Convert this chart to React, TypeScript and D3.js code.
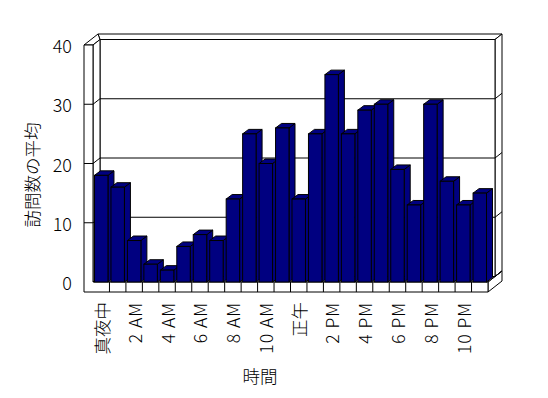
import React from "react";
import * as d3 from "d3";

const categories = ["真夜中","1","2 AM","3","4 AM","5","6 AM","7","8 AM","9","10 AM","11","正午","13","2 PM","15","4 PM","17","6 PM","19","8 PM","21","10 PM","23"];
const tickLabels = ["真夜中","2 AM","4 AM","6 AM","8 AM","10 AM","正午","2 PM","4 PM","6 PM","8 PM","10 PM"];
const values = [18,16,7,3,2,6,8,7,14,25,20,26,14,25,35,25,29,30,19,13,30,17,13,15];
const yTicks = [0,10,20,30,40];

const W = 548, H = 398;
const FONT = "'Noto Sans CJK JP', 'Noto Sans', sans-serif";

export default function App() {
  const x0 = 93, x1 = 488;
  const wallOuter = 84;
  const floorBottom = 292;
  const D = { x: 7, y: -5.5 };
  const B = { x: 6, y: -4.5 };
  const y = d3.scaleLinear().domain([0, 40]).range([282, 45]);
  const xb = d3.scaleBand().domain(categories).range([x0, x1]).paddingInner(0).paddingOuter(0);
  const band = xb.bandwidth();
  const top = y(40), base = y(0);
  const pts = (a: number[][]) => a.map(p => p.join(",")).join(" ");
  const stroke = { stroke: "#000", strokeWidth: 1, strokeLinejoin: "miter" as const };

  return (
    <svg width={W} height={H} style={{ position: "absolute", left: 0, top: 0, background: "#fff" }} fontFamily={FONT} fontWeight={300}>
      <rect x={0} y={0} width={W} height={H} fill="#fff" />
      <polygon points={pts([[x0 + D.x, top + D.y], [x1 + D.x, top + D.y], [x1 + 2 * D.x, top + 2 * D.y], [wallOuter + 2 * D.x, top + 2 * D.y]])} fill="#fff" {...stroke} />
      <polygon points={pts([[x1 + D.x, top + D.y], [x1 + 2 * D.x, top + 2 * D.y], [x1 + 2 * D.x, base + 2 * D.y], [x1 + D.x, base + D.y]])} fill="#fff" {...stroke} />
      <rect x={x0 + D.x} y={top + D.y} width={x1 - x0} height={base - top} fill="#fff" {...stroke} />
      <polygon points={pts([[wallOuter, top], [x0, top], [x0 + D.x, top + D.y], [wallOuter + 2 * D.x, top + 2 * D.y]])} fill="#fff" {...stroke} />
      <polygon points={pts([[x0, top], [x0 + D.x, top + D.y], [x0 + D.x, base + D.y], [x0, base]])} fill="#fff" {...stroke} />
      <polygon points={pts([[x1, base], [x1 + 2 * D.x, base + 2 * D.y], [x1 + 2 * D.x, floorBottom + 2 * D.y], [x1, floorBottom]])} fill="#fff" {...stroke} />
      <polygon points={pts([[x0, base], [x1, base], [x1 + 2 * D.x, base + 2 * D.y], [x1 + D.x, base + D.y], [x0 + D.x, base + D.y]])} fill="#fff" {...stroke} />
      {yTicks.filter(v => v > 0 && v < 40).map(v => (
        <polyline key={v} points={pts([[wallOuter, y(v)], [x0, y(v)], [x0 + D.x, y(v) + D.y], [x1 + D.x, y(v) + D.y], [x1 + 2 * D.x, y(v) + 2 * D.y]])} fill="none" {...stroke} />
      ))}
      <polygon points={pts([[wallOuter, top], [x0, top], [x0, base], [x1, base], [x1, floorBottom], [wallOuter, floorBottom]])} fill="#fff" {...stroke} />
      {yTicks.filter(v => v > 0 && v < 40).map(v => (
        <line key={"t" + v} x1={wallOuter} x2={x0} y1={y(v)} y2={y(v)} {...stroke} />
      ))}
      {categories.slice(1).map(c => (
        <line key={"c" + c} x1={xb(c)!} x2={xb(c)!} y1={base} y2={floorBottom} {...stroke} />
      ))}
      {categories.map((c, i) => {
        const xl = xb(c)! + 1.5;
        const w = band - 3;
        const t = y(values[i]);
        return (
          <g key={"b" + c}>
            <polygon points={pts([[xl + w, t], [xl + w + B.x, t + B.y], [xl + w + B.x, base + B.y], [xl + w, base]])} fill="#000080" {...stroke} />
            <polygon points={pts([[xl, t], [xl + w, t], [xl + w + B.x, t + B.y], [xl + B.x, t + B.y]])} fill="#000080" {...stroke} />
            <rect x={xl} y={t} width={w} height={base - t} fill="#000080" {...stroke} />
          </g>
        );
      })}
      {yTicks.map(v => (
        <text key={"yl" + v} x={72} y={y(v)} textAnchor="end" dominantBaseline="central" fontSize={18} fill="#000">{v}</text>
      ))}
      {tickLabels.map((lab, k) => {
        const cx = xb(categories[k * 2])! + band / 2;
        const latin = /[A-Z]/.test(lab);
        return (
          <text key={"xl" + k} transform={`translate(${cx},302) rotate(-90)`} textAnchor="end" dominantBaseline="central" fontSize={17.5} letterSpacing={latin ? 1 : 0} fill="#000">{lab}</text>
        );
      })}
      <text transform="translate(31,175) rotate(-90)" textAnchor="middle" dominantBaseline="central" fontSize={17.5} fill="#000">訪問数の平均</text>
      <text x={260} y={375} textAnchor="middle" dominantBaseline="central" fontSize={17.5} fill="#000">時間</text>
    </svg>
  );
}
